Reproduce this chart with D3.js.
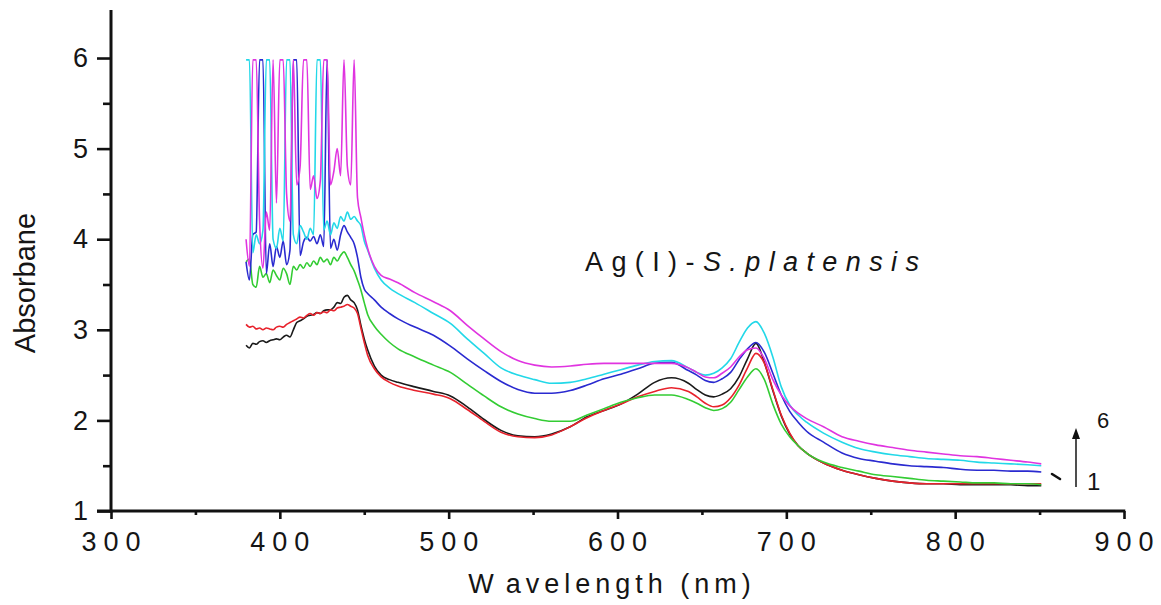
<!DOCTYPE html>
<html><head><meta charset="utf-8">
<script src="https://cdn.jsdelivr.net/npm/d3@7"></script>
<style>
body{margin:0;background:#fff}
svg{display:block}
text{font-family:"Liberation Sans",Arial,Helvetica,sans-serif;fill:#151515}
</style>
</head><body>
<svg id="chart" width="1161" height="605"></svg>
<script>
// ---- data ----
const wavelengths = [380,382,384,386,388,390,392,394,396,398,400,402,404,406,408,410,412,414,416,418,420,422,424,426,428,430,432,434,436,438,440,442,444,446,448,450,452,
  456,460,465,470,480,491,501,511,521,531,541,551,561,572,582,592,602,612,622,632,642,
  647,652,657,662,667,672,677,682,687,692,697,702,707,712,
  722,733,743,753,763,773,783,793,803,813,823,833,843,851];

const spectrum1 = [2.83,2.80,2.85,2.84,2.87,2.88,2.86,2.88,2.89,2.90,2.89,2.92,2.94,2.92,3.00,3.08,3.10,3.12,3.15,3.16,3.17,3.19,3.18,3.21,3.22,3.22,3.25,3.30,3.29,3.36,3.38,3.33,3.30,3.22,3.05,2.90,2.78,
  2.60,2.50,2.45,2.42,2.37,2.32,2.27,2.15,2.01,1.89,1.83,1.82,1.85,1.93,2.04,2.11,2.18,2.29,2.42,2.47,2.41,
  2.34,2.28,2.26,2.29,2.35,2.48,2.68,2.85,2.64,2.33,2.05,1.85,1.72,1.64,
  1.53,1.45,1.40,1.36,1.33,1.31,1.30,1.30,1.29,1.29,1.29,1.29,1.28,1.28];
const spectrum2 = [3.06,3.03,3.04,3.01,3.02,3.00,3.02,3.01,3.00,3.03,3.04,3.03,3.06,3.08,3.10,3.12,3.14,3.13,3.16,3.18,3.16,3.19,3.18,3.20,3.19,3.22,3.21,3.24,3.25,3.26,3.28,3.26,3.24,3.18,3.02,2.86,2.72,
  2.57,2.48,2.42,2.38,2.33,2.29,2.24,2.12,1.99,1.87,1.82,1.81,1.84,1.93,2.03,2.11,2.18,2.26,2.32,2.36,2.32,
  2.26,2.19,2.15,2.17,2.25,2.39,2.58,2.74,2.63,2.34,2.06,1.86,1.72,1.64,
  1.53,1.45,1.40,1.36,1.33,1.31,1.30,1.30,1.30,1.30,1.30,1.30,1.30,1.30];
const spectrum3 = [3.75,3.78,3.50,3.47,3.70,3.58,3.62,3.52,3.66,3.60,3.55,3.68,3.62,3.50,3.70,3.66,3.72,3.68,3.74,3.70,3.76,3.72,3.80,3.75,3.78,3.72,3.80,3.76,3.82,3.86,3.80,3.72,3.65,3.55,3.44,3.30,3.17,
  3.04,2.95,2.86,2.79,2.70,2.61,2.53,2.40,2.27,2.15,2.07,2.02,1.99,1.99,2.06,2.13,2.20,2.25,2.28,2.28,2.23,
  2.19,2.14,2.11,2.13,2.20,2.34,2.48,2.57,2.45,2.18,1.96,1.82,1.72,1.64,
  1.54,1.48,1.44,1.40,1.38,1.36,1.34,1.33,1.32,1.31,1.31,1.30,1.30,1.29];
const spectrum4 = [3.75,3.55,4.05,4.08,5.98,5.98,3.62,3.95,3.70,3.92,3.80,3.98,3.72,3.88,5.98,5.98,3.82,3.97,4.02,3.98,4.03,3.95,4.05,3.92,5.98,3.90,4.00,3.88,4.05,4.15,4.08,4.02,3.95,3.80,3.58,3.45,3.40,
  3.33,3.25,3.18,3.12,3.03,2.94,2.82,2.68,2.55,2.43,2.34,2.30,2.30,2.33,2.39,2.46,2.51,2.57,2.63,2.64,2.55,
  2.50,2.44,2.42,2.46,2.53,2.67,2.79,2.86,2.75,2.52,2.28,2.10,1.98,1.88,
  1.76,1.64,1.58,1.55,1.52,1.50,1.49,1.48,1.46,1.45,1.45,1.44,1.44,1.43];
const spectrum5 = [5.98,5.98,3.85,4.05,3.95,4.10,5.98,5.98,4.00,3.90,4.12,3.98,5.98,5.98,4.05,3.95,4.15,4.08,4.00,4.12,4.05,5.98,5.98,4.10,4.20,4.05,4.18,4.12,4.25,4.20,4.30,4.22,4.25,4.20,4.15,3.98,3.88,
  3.68,3.55,3.46,3.40,3.30,3.18,3.07,2.90,2.74,2.58,2.50,2.45,2.41,2.42,2.46,2.51,2.56,2.61,2.65,2.66,2.58,
  2.53,2.50,2.52,2.58,2.68,2.86,3.02,3.09,2.96,2.70,2.37,2.17,2.06,1.98,
  1.86,1.76,1.69,1.65,1.62,1.60,1.58,1.57,1.56,1.54,1.53,1.52,1.51,1.50];
const spectrum6 = [4.00,3.70,5.98,5.98,4.20,3.68,4.30,4.10,5.98,4.40,5.98,5.98,4.50,4.20,5.98,4.60,4.80,5.98,5.98,4.55,4.70,4.45,4.65,5.98,5.98,4.60,4.75,5.00,4.70,5.98,4.80,4.60,5.98,4.46,4.24,4.05,3.90,
  3.70,3.60,3.56,3.52,3.41,3.31,3.21,3.05,2.90,2.76,2.66,2.61,2.59,2.60,2.62,2.63,2.63,2.63,2.63,2.63,2.58,
  2.53,2.48,2.47,2.52,2.59,2.70,2.78,2.80,2.68,2.45,2.28,2.16,2.08,2.02,
  1.93,1.82,1.77,1.73,1.70,1.67,1.65,1.63,1.61,1.60,1.58,1.56,1.54,1.52];

const seriesList = [spectrum1, spectrum2, spectrum3, spectrum4, spectrum5, spectrum6];
const seriesColors = ["#1a1a1a", "#e8222c", "#33cc33", "#2a2ad0", "#22d8e8", "#e034e0"];

const xMajorTicks = [300, 400, 500, 600, 700, 800, 900];
const xMinorTicks = [350, 450, 550, 650, 750, 850];
const yMajorTicks = [1, 2, 3, 4, 5, 6];
const yMinorTicks = [1.5, 2.5, 3.5, 4.5, 5.5];

// ---- drawing ----
const svg = d3.select("#chart");
const x = d3.scaleLinear().domain([300, 900]).range([111, 1124]);
const y = d3.scaleLinear().domain([1, 6.53]).range([511, 10]);

const line = d3.line().curve(d3.curveMonotoneX)
  .x((d, i) => x(wavelengths[i])).y(d => y(d));

seriesList.forEach((s, k) => {
  svg.append("path").datum(s)
    .attr("d", line)
    .attr("fill", "none")
    .attr("stroke", seriesColors[k])
    .attr("stroke-width", 1.6)
    .attr("stroke-linejoin", "round");
});

// x axis
const gx = svg.append("g").attr("transform", `translate(0,${y(1)})`);
gx.call(d3.axisBottom(x).tickValues(xMajorTicks).tickSize(8).tickFormat(""));
gx.append("g").call(d3.axisBottom(x).tickValues(xMinorTicks).tickSize(4).tickFormat(""));
gx.selectAll(".domain").remove();
gx.selectAll("line").attr("stroke", "#111").attr("stroke-width", 2.6);
gx.append("line").attr("x1", 97).attr("x2", x(900) + 1.3).attr("y1", 0).attr("y2", 0)
  .attr("stroke", "#111").attr("stroke-width", 3);
const xLs = 7;
gx.selectAll(".xlab").data(xMajorTicks).enter().append("text")
  .attr("class", "xlab")
  .attr("x", d => x(d) + xLs / 2)
  .attr("y", 40)
  .attr("text-anchor", "middle")
  .style("font-size", "27px")
  .style("letter-spacing", xLs + "px")
  .text(d => d);

// y axis
const gy = svg.append("g").attr("transform", `translate(${x(300)},0)`);
gy.call(d3.axisLeft(y).tickValues(yMajorTicks).tickSize(14).tickPadding(9).tickFormat(d3.format("d")));
gy.append("g").call(d3.axisLeft(y).tickValues(yMinorTicks).tickSize(8).tickFormat(""));
gy.selectAll(".domain").remove();
gy.selectAll("line").attr("stroke", "#111").attr("stroke-width", 2.6);
gy.selectAll("text").style("font-size", "27px").attr("fill", "#151515").style("font-family", "Liberation Sans, Arial, sans-serif");
gy.append("line").attr("x1", 0).attr("x2", 0).attr("y1", y(6.53)).attr("y2", y(1) + 1.5)
  .attr("stroke", "#111").attr("stroke-width", 3);

// axis titles
svg.append("text")
  .attr("transform", "translate(35,283) rotate(-90)")
  .attr("text-anchor", "middle")
  .style("font-size", "29px")
  .text("Absorbane");

const xt = svg.append("text")
  .attr("x", 612).attr("y", 593)
  .attr("text-anchor", "middle")
  .style("font-size", "27px")
  .style("letter-spacing", "5px");
xt.append("tspan").text("W");
xt.append("tspan").attr("dx", 8).text("avelength (nm)");

// annotation
const ann = svg.append("text")
  .attr("x", 585).attr("y", 271)
  .style("font-size", "27px")
  .style("letter-spacing", "8.4px");
ann.append("tspan").text("Ag(I)-");
ann.append("tspan").style("font-style", "italic").text("S.platensis");

// arrow annotation 1 -> 6
svg.append("line").attr("x1", 1076).attr("x2", 1076).attr("y1", 487).attr("y2", 437)
  .attr("stroke", "#222").attr("stroke-width", 1.6);
svg.append("path").attr("d", "M1076,428 L1080,439 L1072,439 Z").attr("fill", "#111");
svg.append("path").attr("d", "M1052,474 L1060,479").attr("stroke", "#111").attr("stroke-width", 2.6).attr("stroke-linecap", "round");
svg.append("text").attr("x", 1097).attr("y", 428).style("font-size", "22px").text("6");
svg.append("text").attr("x", 1087).attr("y", 490).style("font-size", "24px").text("1");
</script>
</body></html>
